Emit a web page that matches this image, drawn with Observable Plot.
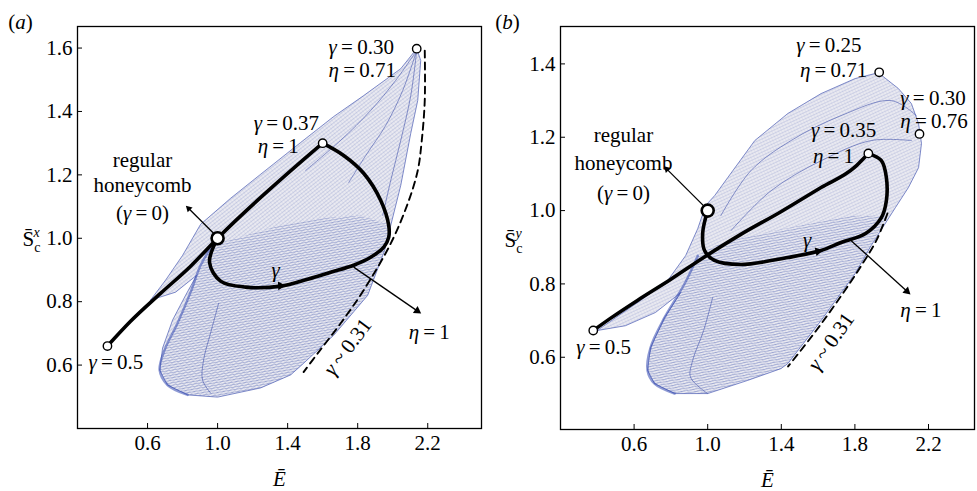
<!DOCTYPE html>
<html><head><meta charset="utf-8">
<script src="https://cdn.jsdelivr.net/npm/d3@7"></script>
<script src="https://cdn.jsdelivr.net/npm/@observablehq/plot@0.6"></script>
<style>
body{margin:0;background:#fff}
#wrap{position:relative;width:977px;height:491px;overflow:hidden}
.panel{position:absolute;top:0}
</style>
</head><body>
<svg width="0" height="0" style="position:absolute">
<defs>
<pattern id="tear" patternUnits="userSpaceOnUse" width="10" height="2.5" patternTransform="rotate(-10)">
<line x1="0" y1="1.25" x2="10" y2="1.25" stroke="#3a4ea8" stroke-width="0.55" stroke-opacity="0.55"/>
</pattern>
<pattern id="sailA" patternUnits="userSpaceOnUse" width="3" height="3" patternTransform="rotate(-38)">
<line x1="0" y1="1.5" x2="3" y2="1.5" stroke="#5263b4" stroke-width="0.4" stroke-opacity="0.5"/>
<line x1="1.5" y1="0" x2="1.5" y2="3" stroke="#7480bd" stroke-width="0.3" stroke-opacity="0.35"/>
</pattern>
<pattern id="sailB" patternUnits="userSpaceOnUse" width="3" height="3" patternTransform="rotate(-25)">
<line x1="0" y1="1.5" x2="3" y2="1.5" stroke="#5263b4" stroke-width="0.4" stroke-opacity="0.45"/>
<line x1="1.5" y1="0" x2="1.5" y2="3" stroke="#7480bd" stroke-width="0.3" stroke-opacity="0.3"/>
</pattern>
</defs>
</svg>
<div id="wrap"></div>
<script>
// ---------- shared ----------
const xTicks = [0.6, 1.0, 1.4, 1.8, 2.2];
const yTicksA = [0.6, 0.8, 1.0, 1.2, 1.4, 1.6];
const yTicksB = [0.6, 0.8, 1.0, 1.2, 1.4];

// ---------- panel (a) ----------
const pathA = [[0.371,0.660],[0.503,0.738],[0.674,0.826],[0.846,0.912],[1.0,1.0],[1.6,1.3]];
const loopA = [[1.0,1.0],[0.954,0.924],[1.017,0.865],[1.160,0.846],[1.360,0.849],[1.514,0.871],[1.646,0.893],
  [1.777,0.915],[1.874,0.940],[1.949,0.972],[1.977,1.003],[1.977,1.041],[1.931,1.120],[1.834,1.205],[1.720,1.261],[1.6,1.3]];
const dashedA = [[2.183,1.592],[2.183,1.435],[2.166,1.309],[2.143,1.214],[2.086,1.110],[1.989,0.984],
  [1.834,0.836],[1.703,0.732],[1.577,0.641],[1.491,0.578]];
const circlesA = [[0.371,0.660],[1.6,1.3],[2.137,1.598]];
const nodeA = [[1.0,1.0]];
const outerA = [[0.617,0.805],[0.703,0.868],[0.800,0.946],[0.903,1.044],[1.074,1.126],[1.246,1.202],[1.474,1.302],
  [1.663,1.384],[1.834,1.450],[2.046,1.535],[2.137,1.598],[2.160,1.561],[2.143,1.435],[2.103,1.331],[2.046,1.167],
  [1.989,1.041],[1.954,0.962],[1.857,0.820],[1.663,0.694],[1.474,0.597],[1.417,0.569],[1.246,0.528],[1.0,0.499],
  [0.829,0.506],[0.714,0.537],[0.669,0.584],[0.686,0.654],[0.743,0.742],[0.817,0.820],[0.880,0.883],[0.760,0.830],[0.617,0.805]];
const tearA = [[0.971,0.978],[0.903,0.915],[0.846,0.830],[0.771,0.732],[0.697,0.647],[0.669,0.584],[0.714,0.537],
  [0.829,0.506],[1.0,0.499],[1.246,0.528],[1.417,0.569],[1.474,0.597],[1.663,0.694],[1.857,0.820],[1.954,0.962],
  [1.989,1.041],[1.817,1.072],[1.589,1.063],[1.360,1.041],[1.160,1.009]];
const tearEdgeA = [[0.971,0.978],[0.903,0.915],[0.846,0.830],[0.771,0.732],[0.697,0.647],[0.669,0.584],[0.714,0.537],[0.829,0.506]];
const fansA = [
  [[2.137,1.592],[2.103,1.450],[2.046,1.309],[1.989,1.183],[1.943,1.072]],
  [[2.137,1.592],[2.057,1.466],[1.960,1.356],[1.846,1.261],[1.749,1.176]],
  [[2.137,1.592],[2.017,1.498],[1.874,1.403],[1.703,1.309],[1.503,1.214]],
  [[1.006,0.795],[0.960,0.701],[0.920,0.616],[0.914,0.553],[0.960,0.512]]
];
const arrowsA = [
  {x1:0.977,y1:1.016,x2:0.835,y2:1.094,r:3.2},
  {x1:1.777,y1:0.909,x2:2.140,y2:0.771,r:4.6}
];
const gammaHeadA = [{x1:1.20,y1:0.846,x2:1.36,y2:0.850,r:5.2}];
const labelsA = [
  {t:"γ\u2009=\u20090.30", x:1.634, y:1.603, a:"start"},
  {t:"η\u2009=\u20090.71", x:1.634, y:1.530, a:"start"},
  {t:"γ\u2009=\u20090.37", x:1.206, y:1.362, a:"start"},
  {t:"η\u2009=\u20091", x:1.229, y:1.291, a:"start"},
  {t:"regular", x:0.571, y:1.246, a:"middle"},
  {t:"honeycomb", x:0.571, y:1.167, a:"middle"},
  {t:"(γ\u2009=\u20090)", x:0.571, y:1.079, a:"middle"},
  {t:"γ\u2009=\u20090.5", x:0.263, y:0.609, a:"start"},
  {t:"η\u2009=\u20091", x:2.091, y:0.704, a:"start"},
  {t:"γ", x:1.331, y:0.899, a:"middle"}
];
const dashLabelA = [{t:"γ\u2009~\u20090.31", x:1.743, y:0.657}];

// ---------- panel (b) ----------
const pathB = [[0.378,0.673],[0.471,0.706],[0.618,0.755],[0.798,0.812],[0.978,0.872],[1.180,0.935],[1.398,0.997],
  [1.616,1.063],[1.796,1.117],[1.873,1.156]];
const loopB = [[1.0,1.0],[0.973,0.940],[0.983,0.891],[1.037,0.864],[1.180,0.853],[1.436,0.872],[1.616,0.891],
  [1.725,0.913],[1.856,0.937],[1.944,0.981],[1.971,1.027],[1.971,1.090],[1.944,1.136],[1.873,1.156]];
const dashedB = [[1.977,0.992],[1.917,0.919],[1.835,0.850],[1.726,0.768],[1.590,0.673],[1.437,0.575]];
const circlesB = [[0.378,0.673],[1.873,1.156],[1.932,1.377],[2.151,1.209]];
const nodeB = [[1.0,1.0]];
const outerB = [[0.400,0.673],[0.635,0.755],[0.782,0.809],[0.880,0.877],[0.946,0.951],[0.989,1.014],[1.038,1.041],
  [1.109,1.090],[1.256,1.191],[1.436,1.265],[1.616,1.319],[1.801,1.360],[1.927,1.376],[2.036,1.333],[2.107,1.292],
  [2.146,1.237],[2.162,1.183],[2.146,1.117],[2.091,1.063],[2.020,1.008],[1.889,0.905],[1.801,0.828],[1.616,0.700],
  [1.436,0.583],[1.398,0.569],[1.218,0.537],[1.0,0.501],[0.820,0.501],[0.711,0.528],[0.673,0.564],[0.689,0.626],
  [0.765,0.708],[0.853,0.776],[0.716,0.722],[0.553,0.686],[0.400,0.673]];
const tearB = [[0.946,0.877],[0.875,0.801],[0.765,0.708],[0.689,0.626],[0.673,0.564],[0.711,0.528],[0.820,0.501],
  [1.0,0.501],[1.218,0.537],[1.398,0.569],[1.436,0.583],[1.616,0.700],[1.801,0.828],[1.889,0.905],[1.971,0.986],
  [1.780,0.986],[1.507,0.959],[1.234,0.932],[1.043,0.905]];
const tearEdgeB = [[0.946,0.877],[0.875,0.801],[0.765,0.708],[0.689,0.626],[0.673,0.564],[0.711,0.528],[0.820,0.501]];
const fansB = [
  [[1.071,0.986],[1.235,1.109],[1.453,1.191],[1.725,1.259],[1.998,1.300],[2.134,1.259]],
  [[1.126,0.945],[1.344,1.054],[1.616,1.136],[1.889,1.191],[2.107,1.191]],
  [[1.027,0.763],[0.978,0.673],[0.918,0.591],[0.907,0.545],[1.0,0.501]]
];
const arrowsB = [
  {x1:0.988,y1:1.008,x2:0.778,y2:1.113,r:3.2},
  {x1:1.780,y1:0.918,x2:2.083,y2:0.780,r:4.6}
];
const gammaHeadB = [{x1:1.436,y1:0.872,x2:1.600,y2:0.889,r:5.2}];
const labelsB = [
  {t:"γ\u2009=\u20090.25", x:1.481, y:1.452, a:"start"},
  {t:"η\u2009=\u20090.71", x:1.501, y:1.383, a:"start"},
  {t:"γ\u2009=\u20090.35", x:1.561, y:1.220, a:"start"},
  {t:"η\u2009=\u20091", x:1.572, y:1.148, a:"start"},
  {t:"γ\u2009=\u20090.30", x:2.047, y:1.307, a:"start"},
  {t:"η\u2009=\u20090.76", x:2.047, y:1.244, a:"start"},
  {t:"regular", x:0.542, y:1.205, a:"middle"},
  {t:"honeycomb", x:0.542, y:1.128, a:"middle"},
  {t:"(γ\u2009=\u20090)", x:0.542, y:1.046, a:"middle"},
  {t:"γ\u2009=\u20090.5", x:0.285, y:0.626, a:"start"},
  {t:"η\u2009=\u20091", x:2.047, y:0.727, a:"start"},
  {t:"γ", x:1.540, y:0.918, a:"middle"}
];
const dashLabelB = [{t:"γ\u2009~\u20090.31", x:1.670, y:0.643}];

// ---------- drawing ----------
const FONT = "'Liberation Serif', 'DejaVu Serif', serif";
const H = 491;
const X = d => d[0], Y = d => d[1];

function makePanel(o) {
  const innerW = o.width - o.ml - o.mr, innerH = H - o.mt - o.mb;
  const kx = innerW / (o.xDom[1] - o.xDom[0]), ky = innerH / (o.yDom[1] - o.yDom[0]);
  const rot = d => Math.atan2((d.x2 - d.x1) * kx, (d.y2 - d.y1) * ky) * 180 / Math.PI;
  const T = {fontFamily: FONT, fontSize: 21};
  const svg = Plot.plot({
    width: o.width, height: H,
    marginLeft: o.ml, marginRight: o.mr, marginTop: o.mt, marginBottom: o.mb,
    x: {domain: o.xDom}, y: {domain: o.yDom},
    style: {fontFamily: FONT, fontSize: "21px", background: "white", color: "black", overflow: "visible"},
    marks: [
      Plot.line(o.outer, {x: X, y: Y, fill: "#eaeaf1", stroke: "none"}),
      Plot.line(o.outer, {x: X, y: Y, fill: o.sailPat, stroke: "none"}),
      Plot.line(o.tear, {x: X, y: Y, fill: "url(#tear)", stroke: "none"}),
      Plot.line(o.outer, {x: X, y: Y, stroke: "#4456b2", strokeWidth: 0.9, strokeOpacity: 0.75}),
      Plot.line(o.tearEdge, {x: X, y: Y, stroke: "#3349b0", strokeWidth: 2.4, strokeOpacity: 0.55, curve: "catmull-rom"}),
      ...o.fans.map(f => Plot.line(f, {x: X, y: Y, stroke: "#3447a6", strokeWidth: 1, strokeOpacity: 0.55, curve: "catmull-rom"})),
      Plot.line(o.dashed, {x: X, y: Y, stroke: "black", strokeWidth: 1.9, strokeDasharray: "7,5", curve: "catmull-rom"}),
      Plot.line(o.path, {x: X, y: Y, stroke: "black", strokeWidth: 3.6, curve: "monotone-x"}),
      Plot.line(o.loop, {x: X, y: Y, stroke: "black", strokeWidth: 3.6, curve: "catmull-rom"}),
      Plot.link(o.arrows, {x1: "x1", y1: "y1", x2: "x2", y2: "y2", stroke: "black", strokeWidth: 1.3}),
      Plot.dot(o.arrows, {x: "x2", y: "y2", r: "r", symbol: "triangle", fill: "black", stroke: "none", rotate: rot}),
      Plot.dot(o.gammaHead, {x: "x2", y: "y2", r: "r", symbol: "triangle", fill: "black", stroke: "none", rotate: rot}),
      Plot.dot(o.circles, {x: X, y: Y, r: 4.2, fill: "white", stroke: "black", strokeWidth: 1.4}),
      Plot.dot(o.node, {x: X, y: Y, r: 6, fill: "white", stroke: "black", strokeWidth: 2.6}),
      Plot.text(o.labels.filter(d => d.a === "start"), {x: "x", y: "y", text: "t", textAnchor: "start", ...T}),
      Plot.text(o.labels.filter(d => d.a === "middle"), {x: "x", y: "y", text: "t", textAnchor: "middle", ...T}),
      Plot.text(o.dashLabel, {x: "x", y: "y", text: "t", rotate: o.dashRot, ...T}),
      Plot.tickX(xTicks, {x: d => d, insetTop: innerH - 5, stroke: "black", strokeWidth: 1}),
      Plot.tickY(o.yTicks, {y: d => d, insetRight: innerW - 5, stroke: "black", strokeWidth: 1}),
      Plot.axisX(xTicks, {tickSize: 0, tickPadding: 7, tickFormat: d3.format(".1f"), label: null, ...T}),
      Plot.axisY(o.yTicks, {tickSize: 0, tickPadding: 5, tickFormat: d3.format(".1f"), label: null, ...T}),
      Plot.text(["Ē"], {frameAnchor: "bottom", lineAnchor: "middle", dy: 51, text: d => d, ...T}),
      Plot.text(["YLAB"], {frameAnchor: "left", lineAnchor: "middle", dx: o.ylabDx, dy: 12, text: d => d, ...T}),
      Plot.text([o.tag], {frameAnchor: "top-left", lineAnchor: "middle", dx: o.tagDx, dy: -4, textAnchor: "middle", text: d => d, ...T}),
      Plot.frame({stroke: "black", strokeWidth: 1.3})
    ]
  });
  fixText(svg, o.ysup);
  return svg;
}

function fixText(svg, ysup) {
  const ns = "http://www.w3.org/2000/svg";
  const span = (parent, txt, attrs) => {
    const s = document.createElementNS(ns, "tspan");
    s.textContent = txt;
    for (const k in attrs) s.setAttribute(k, attrs[k]);
    parent.appendChild(s);
  };
  svg.querySelectorAll("text").forEach(t => {
    if (t.querySelector("tspan")) return;
    const s = t.textContent;
    if (s === "YLAB") {
      t.textContent = "";
      span(t, "S\u0304", {});
      span(t, "c", {dy: 6, "font-size": 14});
      span(t, ysup, {dx: -7, dy: -15, "font-size": 14, "font-style": "italic"});
    } else if (s === "(a)" || s === "(b)") {
      t.textContent = "";
      span(t, "(", {});
      span(t, s[1], {"font-style": "italic"});
      span(t, ")", {});
    } else if (/[γηĒ]/.test(s)) {
      t.textContent = "";
      for (const p of s.split(/([γηĒ])/)) {
        if (!p) continue;
        span(t, p, /[γηĒ]/.test(p) ? {"font-style": "italic"} : {});
      }
    }
  });
}

const wrap = document.getElementById("wrap");
const a = makePanel({
  width: 487, ml: 77, mr: 6, mt: 26, mb: 63,
  xDom: [0.2, 2.507], yDom: [0.40, 1.668], yTicks: yTicksA,
  outer: outerA, tear: tearA, tearEdge: tearEdgeA, fans: fansA, sailPat: "url(#sailA)",
  dashed: dashedA, path: pathA, loop: loopA, arrows: arrowsA, gammaHead: gammaHeadA,
  circles: circlesA, node: nodeA, labels: labelsA, dashLabel: dashLabelA, dashRot: -53,
  ylabDx: -55, ysup: "x", tag: "(a)", tagDx: -57
});
a.classList.add("panel"); a.style.left = "0px";
const b = makePanel({
  width: 490, ml: 73, mr: 3, mt: 26, mb: 62,
  xDom: [0.2, 2.45], yDom: [0.403, 1.502], yTicks: yTicksB,
  outer: outerB, tear: tearB, tearEdge: tearEdgeB, fans: fansB, sailPat: "url(#sailB)",
  dashed: dashedB, path: pathB, loop: loopB, arrows: arrowsB, gammaHead: gammaHeadB,
  circles: circlesB, node: nodeB, labels: labelsB, dashLabel: dashLabelB, dashRot: -55,
  ylabDx: -56, ysup: "y", tag: "(b)", tagDx: -53
});
b.classList.add("panel"); b.style.left = "487px";
wrap.appendChild(a); wrap.appendChild(b);
</script>
</body></html>
